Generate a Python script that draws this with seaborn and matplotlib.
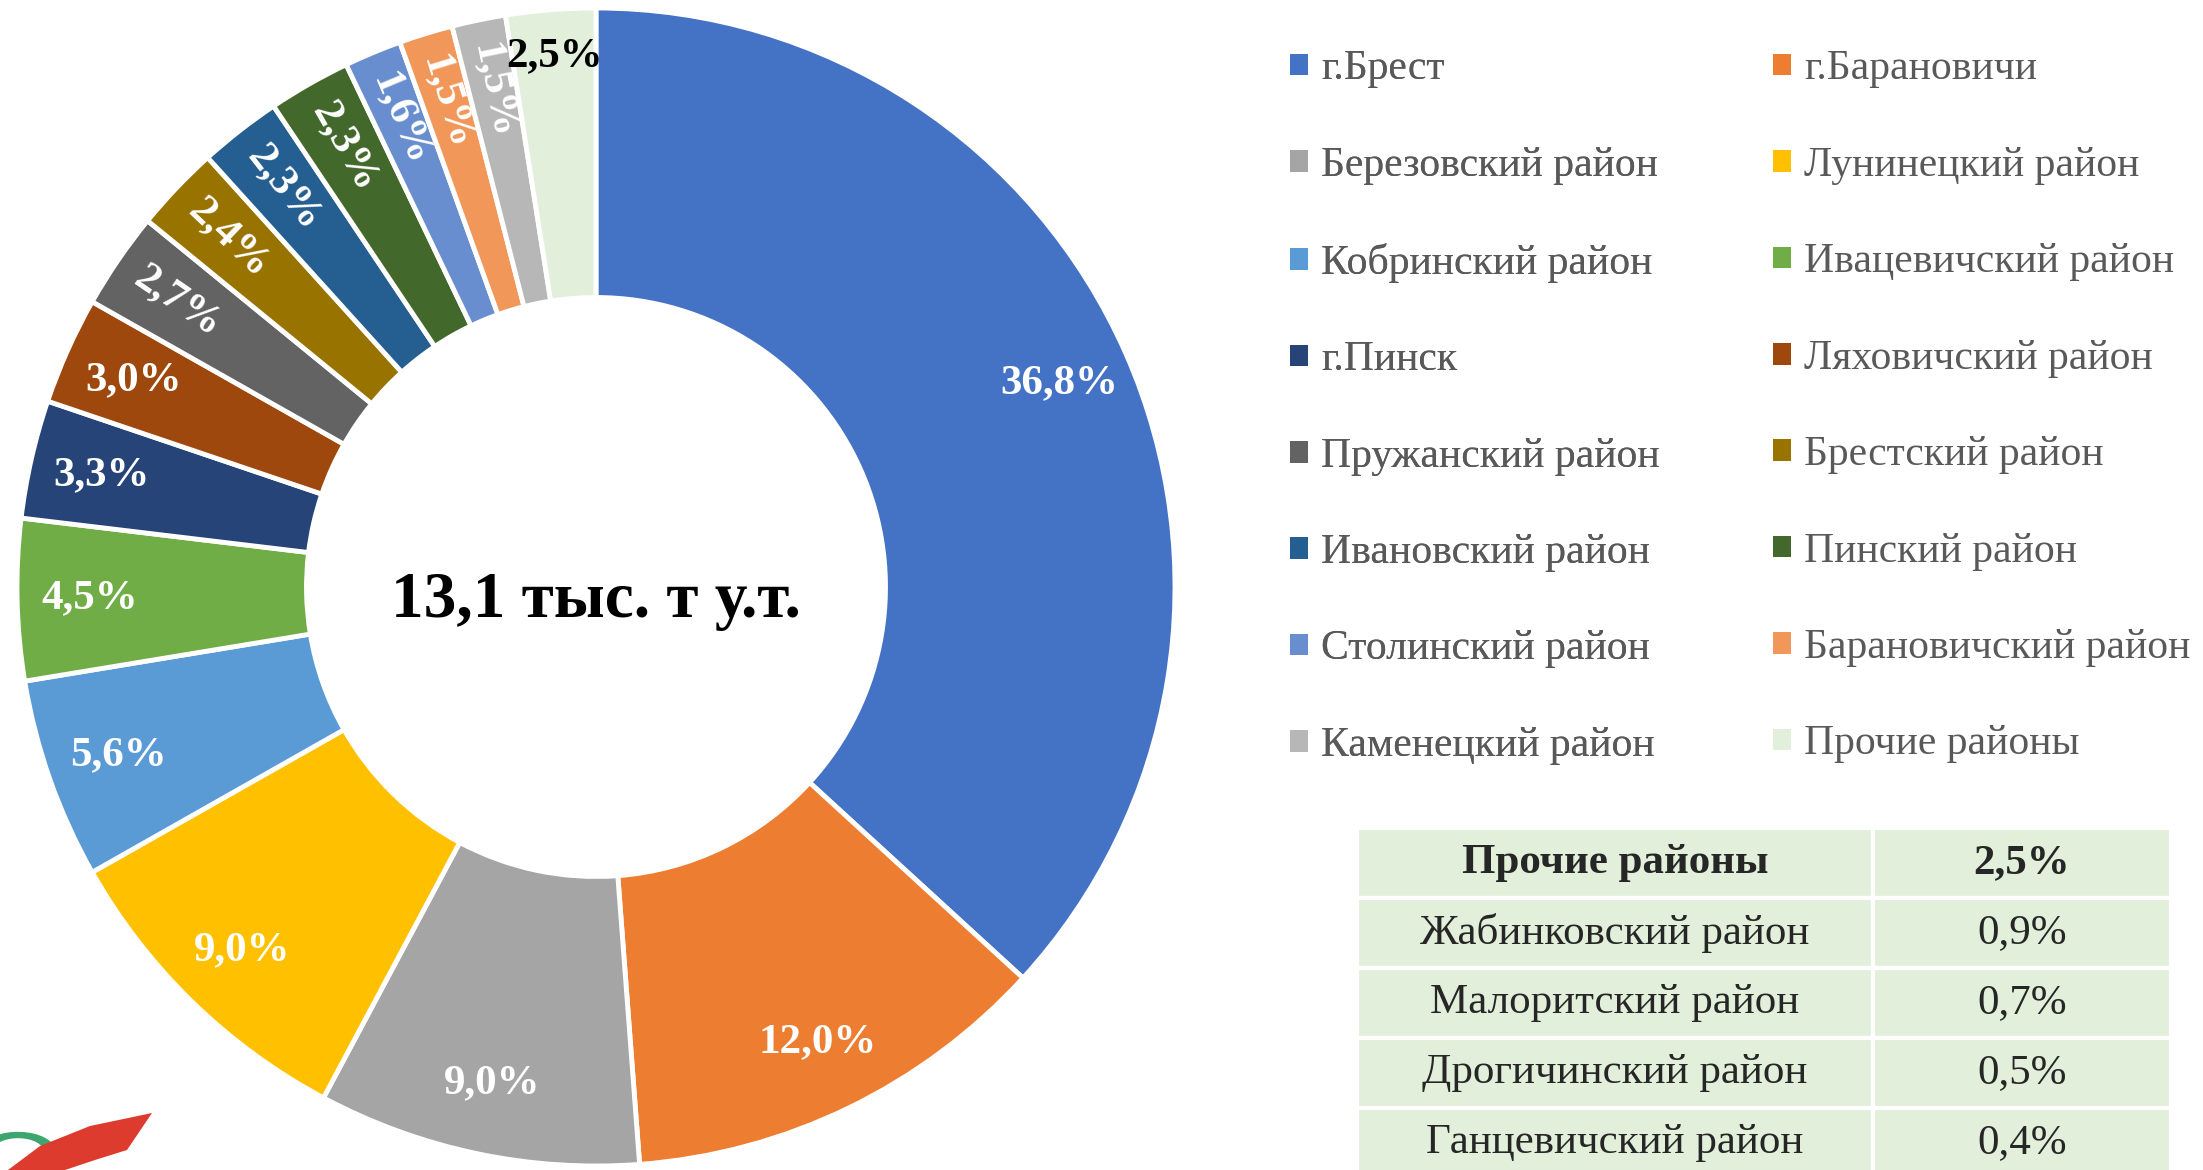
import numpy as np
import matplotlib
matplotlib.use("Agg")
import matplotlib.pyplot as plt
from matplotlib.patches import Patch, Polygon, Wedge
import seaborn as sns

# data
regions = ["г.Брест", "г.Барановичи", "Березовский район", "Лунинецкий район",
           "Кобринский район", "Ивацевичский район", "г.Пинск", "Ляховичский район",
           "Пружанский район", "Брестский район", "Ивановский район", "Пинский район",
           "Столинский район", "Барановичский район", "Каменецкий район", "Прочие районы"]
shares = [36.8, 12.0, 9.0, 9.0, 5.6, 4.5, 3.3, 3.0, 2.7, 2.4, 2.3, 2.3, 1.6, 1.5, 1.5, 2.5]
slice_colors = ["#4472C4", "#ED7D31", "#A5A5A5", "#FFC000", "#5B9BD5", "#70AD47",
                "#264478", "#9E480E", "#636363", "#997300", "#255E91", "#43682B",
                "#698ED0", "#F1975A", "#B7B7B7", "#E2EFDA"]
total_label = "13,1 тыс. т у.т."

other_header = ["Прочие районы", "2,5%"]
other_names = ["Жабинковский район", "Малоритский район", "Дрогичинский район", "Ганцевичский район"]
other_shares = [0.9, 0.7, 0.5, 0.4]

W, H = 2203, 1170
FONT = ["Liberation Serif", "DejaVu Serif"]

sns.set_theme(style="white")
plt.rcParams["font.family"] = FONT
palette = sns.color_palette(slice_colors)


def fmt(v):
    return f"{v:.1f}%".replace(".", ",")


def px(x, y):
    return (x / W, 1 - y / H)


fig = plt.figure(figsize=(W / 100, H / 100), dpi=100)
fig.patch.set_facecolor("white")

# donut
cx, cy, R = 596, 587, 579
ax = fig.add_axes([(cx - R) / W, (H - cy - R) / H, 2 * R / W, 2 * R / H])
wedges, _ = ax.pie(shares, colors=palette, startangle=90, counterclock=False,
                   wedgeprops=dict(width=0.5, edgecolor="white", linewidth=3.5))
ax.set_xlim(-1, 1)
ax.set_ylim(-1, 1)

n = len(shares)
for i, (w, v) in enumerate(zip(wedges, shares)):
    ang = (w.theta1 + w.theta2) / 2
    last = i == n - 1
    r = 0.92 if last else 0.875
    x, y = r * np.cos(np.radians(ang)), r * np.sin(np.radians(ang))
    rot = 0
    if v < 2.9 and not last:
        a = (ang + 180) % 360 - 180
        rot = a - 180
    ax.text(x, y, fmt(v), ha="center", va="center", rotation=rot,
            rotation_mode="anchor", fontsize=31, fontweight="bold",
            color="black" if last else "white")

ax.text(0, -0.025, total_label, ha="center", va="center", fontsize=47,
        fontweight="bold", color="black")

# legend, filled row by row
handles = [Patch(facecolor=c, edgecolor="none") for c in palette]
leg_kw = dict(loc="upper left", frameon=False, fontsize=30, labelcolor="#595959",
              handlelength=0.42, handleheight=0.42, handletextpad=0.33,
              labelspacing=1.39, borderpad=0, borderaxespad=0)
leg1 = fig.legend(handles[0::2], regions[0::2], bbox_to_anchor=px(1290, 50), **leg_kw)
fig.add_artist(leg1)
fig.legend(handles[1::2], regions[1::2], bbox_to_anchor=px(1773, 50), **leg_kw)

# table of "other" districts
t_left, t_right, t_top, row_h = 1357, 2171, 828, 70
n_rows = len(other_names) + 1
ax_t = fig.add_axes([t_left / W, (H - t_top - row_h * n_rows) / H,
                     (t_right - t_left) / W, row_h * n_rows / H])
ax_t.axis("off")
cells = [other_header] + [[nm, fmt(v)] for nm, v in zip(other_names, other_shares)]
tbl = ax_t.table(cellText=cells, cellColours=[[slice_colors[-1]] * 2] * n_rows,
                 colWidths=[516, 298], cellLoc="center", bbox=[0, 0, 1, 1])
tbl.auto_set_font_size(False)
for (r_, c_), cell in tbl.get_celld().items():
    cell.set_edgecolor("white")
    cell.set_linewidth(3)
    cell.get_text().set_fontsize(31)
    cell.get_text().set_family(FONT)
    if r_ == 0:
        cell.get_text().set_fontweight("bold")

# corner logo fragment
fig.patches.append(Wedge(px(18, 1152), 38 / W, -20, 150, width=12 / W,
                         transform=fig.transFigure, facecolor="#3DA56E",
                         edgecolor="none"))
fig.patches.append(Polygon([px(152, 1113), px(127, 1150), px(95, 1160), px(65, 1170),
                            px(8, 1170), px(40, 1146), px(90, 1126)],
                           closed=True, transform=fig.transFigure,
                           facecolor="#DD3B2E", edgecolor="none"))

fig.savefig("out.png", dpi=100, facecolor="white")
